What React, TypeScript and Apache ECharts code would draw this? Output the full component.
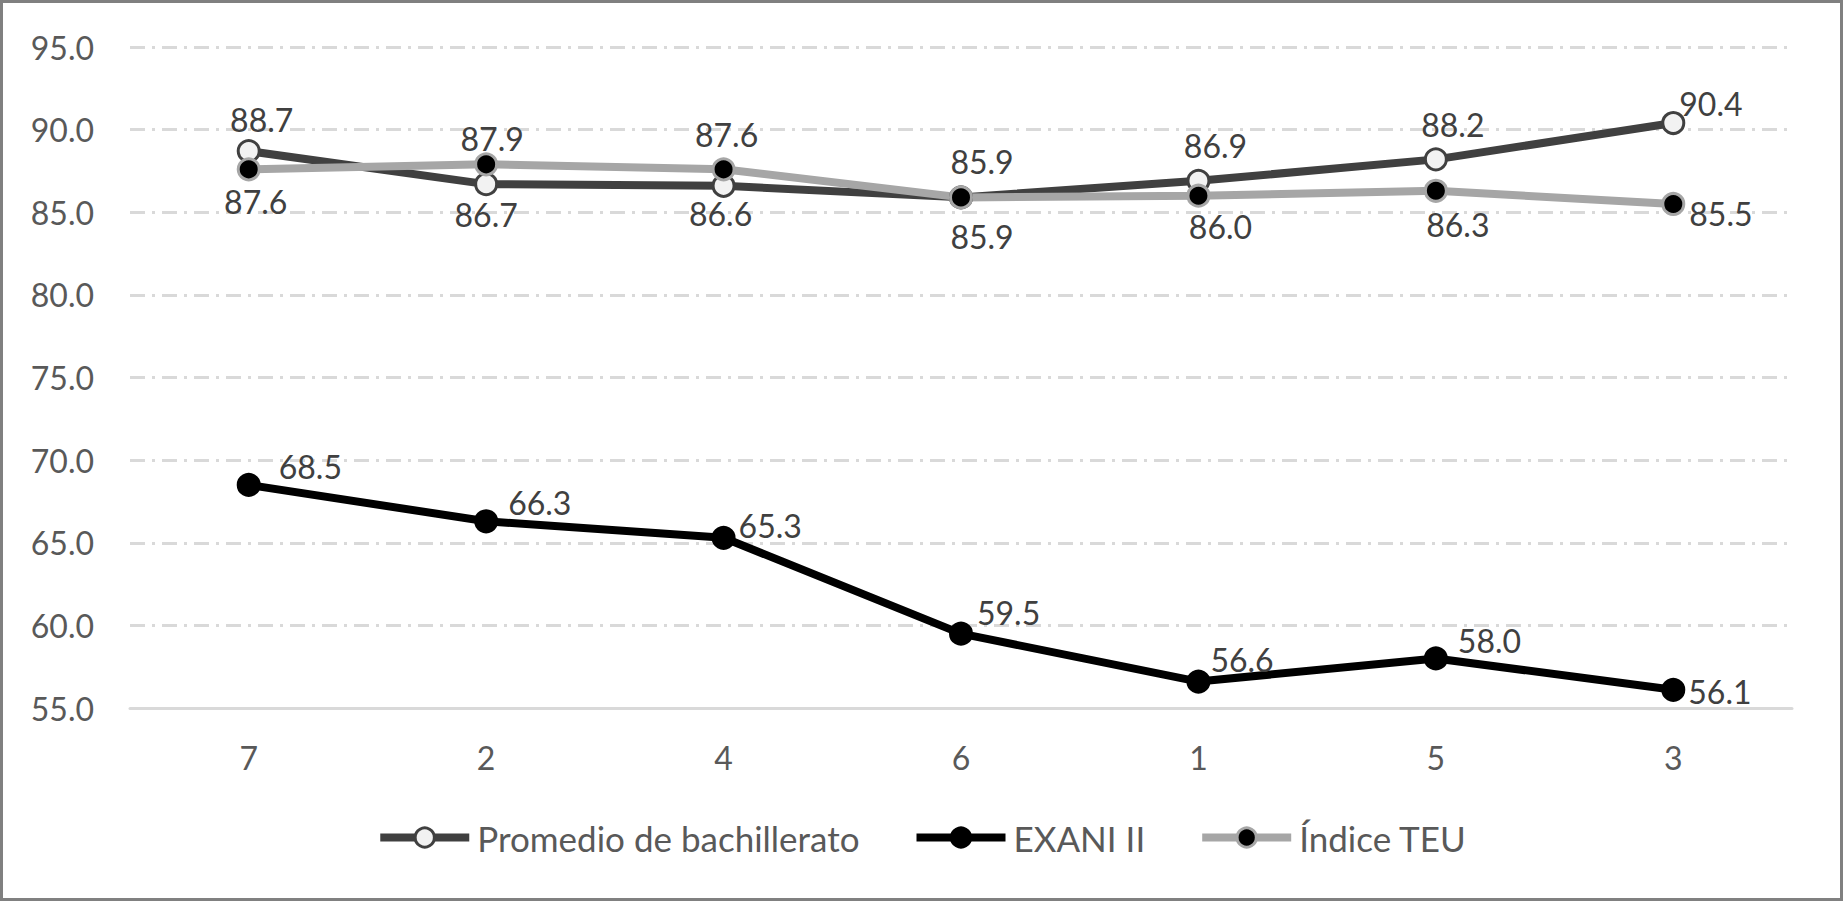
import React, { useEffect, useRef } from "react";
import * as echarts from "echarts";

const categories = ["7", "2", "4", "6", "1", "5", "3"];
const promedio = [88.7, 86.7, 86.6, 85.9, 86.9, 88.2, 90.4];
const exani = [68.5, 66.3, 65.3, 59.5, 56.6, 58.0, 56.1];
const teu = [87.6, 87.9, 87.6, 85.9, 86.0, 86.3, 85.5];
const seriesNames = ["Promedio de bachillerato", "EXANI II", "Índice TEU"];

// label placement (style only): [dx, dy, align]
const promedioLabelPos: [number, number, string][] = [
  [13, -32, "center"], [0, 30, "center"], [-3, 28, "center"], [21, -36, "center"],
  [17, -35, "center"], [17, -35, "center"], [6, -20, "left"],
];
const exaniLabelPos: [number, number, string][] = [
  [30, -18, "left"], [22, -19, "left"], [15, -12, "left"], [16, -21, "left"],
  [12, -22, "left"], [22, -18, "left"], [15, 2, "left"],
];
const teuLabelPos: [number, number, string][] = [
  [7, 32, "center"], [6, -26, "center"], [3, -35, "center"], [21, 39, "center"],
  [22, 31, "center"], [22, 34, "center"], [16, 10, "left"],
];

const FONT = "Lato, 'Noto Sans', sans-serif";
const FS = 32;
const LEGEND_FS = 35;

function buildData(values: number[], pos: [number, number, string][]) {
  return values.map((v, i) => ({
    value: v,
    label: { offset: [pos[i][0], pos[i][1]], align: pos[i][2] },
  }));
}

const labelBase = {
  show: true,
  position: "inside",
  verticalAlign: "middle",
  color: "#404040",
  fontSize: FS,
  lineHeight: FS,
  fontFamily: FONT,
  textBorderWidth: 0,
  formatter: (p: any) => Number(p.value).toFixed(1),
};

export default function App() {
  const ref = useRef<HTMLDivElement>(null);
  useEffect(() => {
    document.body.style.margin = "0";
    const chart = echarts.init(ref.current!, null, { renderer: "svg" });
    chart.setOption({
      animation: false,
      backgroundColor: "#ffffff",
      grid: { left: 130, right: 51, top: 47, bottom: 193, containLabel: false },
      legend: {
        bottom: 41,
        left: "center",
        itemWidth: 89,
        itemHeight: 24,
        itemGap: 53,
        data: seriesNames,
        lineStyle: { width: 8 },
        itemStyle: { borderWidth: 3 },
        textStyle: {
          color: "#595959",
          fontSize: LEGEND_FS,
          lineHeight: LEGEND_FS,
          fontFamily: FONT,
          padding: [0, 0, 0, 3],
        },
      },
      xAxis: {
        type: "category",
        data: categories,
        boundaryGap: true,
        axisLine: { show: true, lineStyle: { color: "#d9d9d9", width: 3 } },
        axisTick: { show: false },
        axisLabel: { color: "#595959", fontSize: FS, lineHeight: FS, fontFamily: FONT, margin: 33 },
      },
      yAxis: {
        type: "value",
        min: 55,
        max: 95,
        interval: 5,
        axisLine: { show: false },
        axisTick: { show: false },
        axisLabel: {
          color: "#595959",
          fontSize: FS,
          fontFamily: FONT,
          margin: 36,
          formatter: (v: number) => v.toFixed(1),
        },
        splitLine: {
          show: true,
          lineStyle: { color: "#d9d9d9", width: 3, type: [15, 7, 3, 7] },
        },
      },
      series: [
        {
          name: seriesNames[0],
          type: "line",
          data: buildData(promedio, promedioLabelPos),
          symbol: "circle",
          symbolSize: 21,
          lineStyle: { color: "#404040", width: 8 },
          itemStyle: { color: "#f2f2f2", borderColor: "#404040", borderWidth: 3 },
          label: labelBase,
          emphasis: { disabled: true },
        },
        {
          name: seriesNames[1],
          type: "line",
          data: buildData(exani, exaniLabelPos),
          symbol: "circle",
          symbolSize: 21,
          lineStyle: { color: "#000000", width: 8 },
          itemStyle: { color: "#000000", borderColor: "#000000", borderWidth: 3 },
          label: labelBase,
          emphasis: { disabled: true },
        },
        {
          name: seriesNames[2],
          type: "line",
          data: buildData(teu, teuLabelPos),
          symbol: "circle",
          symbolSize: 21,
          lineStyle: { color: "#a6a6a6", width: 8 },
          itemStyle: { color: "#000000", borderColor: "#a6a6a6", borderWidth: 3 },
          label: labelBase,
          emphasis: { disabled: true },
        },
      ],
    });
    return () => chart.dispose();
  }, []);
  return (
    <div style={{ position: "fixed", left: 0, top: 0, width: 1843, height: 901, background: "#fff" }}>
      <div ref={ref} style={{ width: 1843, height: 901 }} />
      <div
        style={{
          position: "absolute",
          left: 0,
          top: 0,
          width: 1843,
          height: 901,
          boxSizing: "border-box",
          border: "3px solid #808080",
          pointerEvents: "none",
        }}
      />
    </div>
  );
}
